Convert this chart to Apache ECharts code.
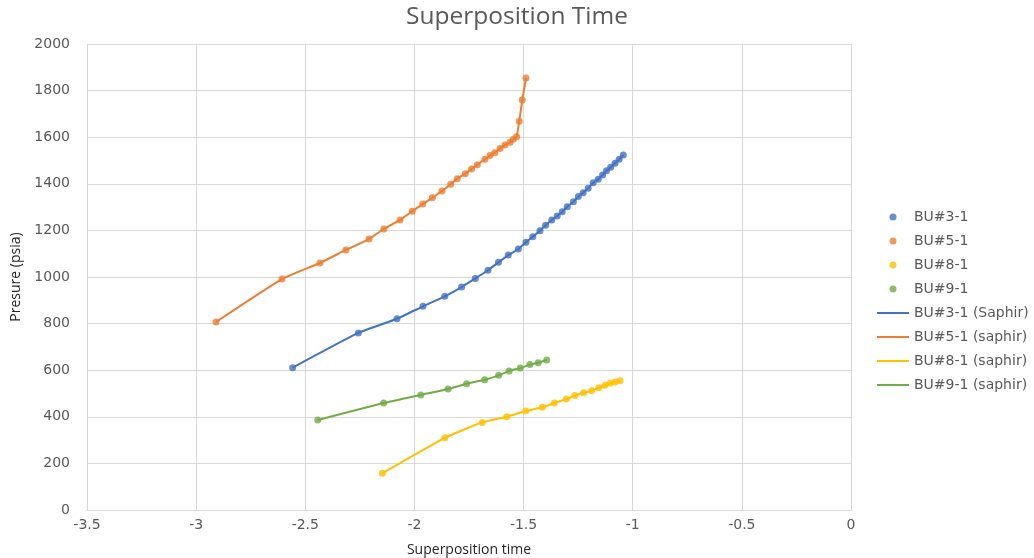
<!DOCTYPE html>
<html>
<head>
<meta charset="utf-8">
<title>Superposition Time</title>
<script src="https://cdn.jsdelivr.net/npm/echarts@6/dist/echarts.min.js"></script>
<style>
  html, body { margin: 0; padding: 0; background: #ffffff; }
  #chart { width: 1034px; height: 558px; }
</style>
</head>
<body>
<div id="chart"></div>
<script>
// Build-up tests: superposition time vs pressure (psia)
const bu3Time = [-2.558, -2.257, -2.080, -1.961, -1.861, -1.784, -1.721, -1.663, -1.615, -1.570,
  -1.524, -1.489, -1.458, -1.425, -1.399, -1.371, -1.346, -1.323, -1.300, -1.272,
  -1.249, -1.227, -1.204, -1.181, -1.158, -1.138, -1.120, -1.101, -1.081, -1.062, -1.043];
const bu3Pres = [611, 760, 821, 874, 917, 957, 994, 1029, 1063, 1094,
  1120, 1149, 1173, 1199, 1222, 1245, 1262, 1280, 1302, 1323,
  1345, 1362, 1381, 1405, 1419, 1438, 1456, 1471, 1488, 1505, 1524];

const bu5Time = [-2.909, -2.607, -2.433, -2.314, -2.208, -2.140, -2.066, -2.010, -1.962, -1.918,
  -1.874, -1.834, -1.804, -1.767, -1.738, -1.712, -1.677, -1.654, -1.632, -1.608,
  -1.585, -1.562, -1.547, -1.532, -1.520, -1.506, -1.489];
const bu5Pres = [807, 991, 1060, 1116, 1163, 1206, 1245, 1282, 1313, 1340,
  1369, 1398, 1422, 1443, 1464, 1482, 1505, 1521, 1533, 1552,
  1567, 1578, 1591, 1602, 1668, 1760, 1854];

const bu8Time = [-2.147, -1.860, -1.689, -1.577, -1.490, -1.414, -1.359, -1.304, -1.265, -1.225,
  -1.188, -1.155, -1.127, -1.104, -1.081, -1.058];
const bu8Pres = [158, 310, 376, 400, 425, 441, 459, 476, 491, 503,
  512, 525, 535, 544, 549, 555];

const bu9Time = [-2.443, -2.141, -1.971, -1.846, -1.761, -1.678, -1.614, -1.566, -1.515, -1.471, -1.433, -1.394];
const bu9Pres = [386, 459, 494, 519, 542, 559, 578, 597, 609, 624, 632, 644];

const testNames = ['BU#3-1', 'BU#5-1', 'BU#8-1', 'BU#9-1'];
const modelNames = ['BU#3-1 (Saphir)', 'BU#5-1 (saphir)', 'BU#8-1 (saphir)', 'BU#9-1 (saphir)'];
const colors = ['#4472C4', '#ED7D31', '#FFC000', '#70AD47'];

const xTicks = { min: -3.5, max: 0, step: 0.5 };
const yTicks = { min: 0, max: 2000, step: 200 };

const pairs = (xs, ys) => xs.map((x, i) => [x, ys[i]]);
const sets = [
  pairs(bu3Time, bu3Pres),
  pairs(bu5Time, bu5Pres),
  pairs(bu8Time, bu8Pres),
  pairs(bu9Time, bu9Pres)
];

const textColor = '#595959';
const gridColor = '#d9d9d9';
const tickFont = 'DejaVu Sans';
// thin horizontal bar used as the legend swatch of the model curves
const lineIcon = 'path://M0,0 L32,0 L32,2 L0,2 Z';

const series = [];
sets.forEach((data, i) => {
  series.push({
    name: testNames[i],
    type: 'scatter',
    data: data,
    symbol: 'circle',
    symbolSize: 7,
    itemStyle: { color: colors[i] },
    z: 3
  });
});
sets.forEach((data, i) => {
  series.push({
    name: modelNames[i],
    type: 'line',
    data: data,
    symbol: 'none',
    smooth: 0.15,
    lineStyle: { color: colors[i], width: 2 },
    itemStyle: { color: colors[i] },
    z: 2
  });
});

const chart = echarts.init(document.getElementById('chart'), null, { renderer: 'canvas' });
chart.setOption({
  animation: false,
  backgroundColor: '#ffffff',
  title: {
    text: 'Superposition Time',
    left: 'center',
    top: 0,
    textStyle: { fontFamily: 'Open Sans', fontSize: 24.5, fontWeight: 'normal', color: textColor }
  },
  legend: {
    orient: 'vertical',
    left: 877,
    top: 210,
    padding: 0,
    itemWidth: 32,
    itemHeight: 7,
    itemGap: 10,
    textStyle: { fontFamily: tickFont, fontSize: 14, color: textColor },
    data: testNames.map(n => ({ name: n, icon: 'circle' }))
      .concat(modelNames.map(n => ({ name: n, icon: lineIcon })))
  },
  grid: {
    left: 87, right: 183, top: 44, bottom: 48,
    containLabel: false,
    outerBoundsMode: 'none'
  },
  xAxis: {
    type: 'value',
    min: xTicks.min,
    max: xTicks.max,
    interval: xTicks.step,
    name: 'Superposition time',
    nameLocation: 'middle',
    nameGap: 33,
    nameTextStyle: { fontFamily: 'Open Sans', fontSize: 14, color: '#262626' },
    axisLine: { show: true, onZero: false, lineStyle: { color: gridColor, width: 1 } },
    axisTick: { show: false },
    axisLabel: { margin: 8, fontFamily: tickFont, fontSize: 14, color: textColor },
    splitLine: { show: true, lineStyle: { color: gridColor, width: 1 } }
  },
  yAxis: {
    type: 'value',
    min: yTicks.min,
    max: yTicks.max,
    interval: yTicks.step,
    name: 'Presure (psia)',
    nameLocation: 'middle',
    nameGap: 60,
    nameRotate: 90,
    nameTextStyle: { fontFamily: 'Open Sans', fontSize: 14, color: '#262626' },
    axisLine: { show: false },
    axisTick: { show: false },
    axisLabel: {
      margin: 17,
      fontFamily: tickFont,
      fontSize: 14,
      color: textColor,
      formatter: v => String(v)
    },
    splitLine: { show: true, lineStyle: { color: gridColor, width: 1 } }
  },
  series: series
});
</script>
</body>
</html>
